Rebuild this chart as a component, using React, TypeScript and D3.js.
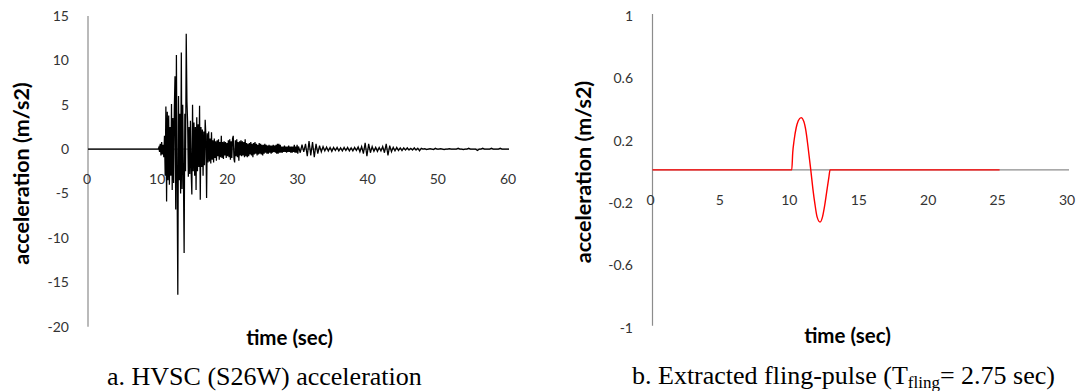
import React from "react";
import * as d3 from "d3";

const W = 1081;
const H = 391;

// ---------- Chart a: HVSC (S26W) acceleration ----------
const accXTicks = [0, 10, 20, 30, 40, 50, 60];
const accYTicks = [15, 10, 5, 0, -5, -10, -15, -20];
// quiet pre-event part (time, acc)
const accQuietTime = [0, 10];
const accQuietAcc = [0, 0];
// strong motion, 10.0 s .. 19.9 s, sampled every 0.1 s
const accStrongStart = 10.0;
const accStrongDt = 0.1;
const accStrong = [
  0, 0.2, -0.3, 0.6, -0.7, 0.8, -0.6, 0.5, -0.9, 1.5,
  -3.0, 4.8, -5.9, 4.2, -3.5, 3.8, -4.0, 2.5, -3.0, 5.1,
  -4.6, 3.5, -3.8, 4.5, 8.2, -6.8, 10.6, -4.0, -16.4, 6.0,
  -3.5, 4.0, -5.0, 10.9, -4.5, 5.0, -3.0, -11.7, 4.0, -2.5,
  13.0, 5.4, 3.0, -3.1, 2.5, -2.8, 3.2, -2.5, -5.1, 5.0,
  -2.5, 3.0, -3.0, 2.5, -4.6, 3.6, -2.5, 2.8, -2.0, 4.9,
  -5.7, 2.5, -2.0, 2.2, -3.0, 2.0, -1.8, 3.3, 1.5, -5.5,
  1.8, -1.5, 2.0, -1.4, 1.2, -1.6, 1.9, -1.2, 1.0, -1.5,
  1.2, -1.0, 0.9, -1.3, 1.0, -0.8, 1.1, -1.2, 0.8, -0.9,
  1.5, -1.0, 0.8, -1.1, 0.9, -0.7, 0.8, -1.0, 0.7, -0.8,
];
// coda, 20.0 s .. 29.9 s, every 0.1 s
const accCodaStart = 20.0;
const accCodaDt = 0.1;
const accCoda = [
  1.0, -0.9, 1.1, -1.2, 0.9, -1.0, 1.2, 1.5, -1.1, -1.5,
  1.0, -0.8, 1.1, -0.9, 0.8, -1.3, 0.9, -0.7, 1.0, -0.8,
  0.9, -0.7, 0.8, -0.9, 1.1, -0.8, 0.7, -0.9, 0.6, -0.8,
  0.7, -0.6, 0.8, -0.7, 0.6, -0.9, 0.7, -0.6, 0.8, -0.5,
  0.6, -0.7, 0.5, -0.6, 0.7, -0.5, 0.6, -0.6, 0.5, -0.7,
  0.5, -0.5, 0.6, -0.4, 0.5, -0.5, 0.4, -0.5, 0.5, -0.4,
  0.4, -0.5, 0.4, -0.4, 0.5, -0.3, 0.4, -0.4, 0.5, -0.5,
  0.6, -0.5, 0.6, -0.4, 0.5, -0.4, 0.3, -0.4, 0.3, -0.3,
  0.4, -0.3, 0.3, -0.4, 0.3, -0.3, 0.4, -0.3, 0.3, -0.4,
  0.3, -0.4, 0.3, -0.3, 0.5, -0.4, 0.3, -0.4, 0.5, -0.5,
];
// tail, 30.0 s .. 60.0 s, every 0.25 s
const accTailStart = 30.0;
const accTailDt = 0.25;
const accTail = [
  0.3, -0.4, 0.5, -0.3, 0.6, -0.8, 0.9, -0.7, 0.8, -0.9, 0.6, -0.5,
  0.4, -0.3, 0.3, -0.2, 0.25, -0.2, 0.2, -0.25, 0.2, -0.15, 0.2, -0.2,
  0.15, -0.2, 0.2, -0.15, 0.2, -0.2, 0.15, -0.2, 0.2, -0.15, 0.25, -0.3,
  0.3, -0.5, 0.7, -0.8, 0.6, -0.4, 0.3, -0.25, 0.2, -0.25, 0.2, -0.2,
  0.3, -0.4, 0.6, -0.7, 0.4, -0.3, 0.2, -0.2, 0.2, -0.15, 0.15, -0.15,
  0.15, -0.1, 0.15, -0.1, 0.1, -0.1, 0.15, -0.1, 0.1, -0.2, 0.1, 0,
  0.05, -0.05, 0, 0.05, 0, -0.05, 0.1, 0, 0, 0.05, 0, -0.05,
  0, 0, 0.05, 0, 0, 0, 0, 0.1, 0, 0, -0.05, 0,
  0, 0.1, 0, 0, 0, 0, -0.15, 0, 0, 0.1, 0, 0,
  0, 0, 0.1, 0, 0, 0, 0, 0.1, 0, 0, 0, 0,
  0,
];

// ---------- Chart b: extracted fling pulse ----------
const pulseXTicks = [0, 5, 10, 15, 20, 25, 30];
const pulseYTicks = [1, 0.6, 0.2, -0.2, -0.6, -1];
const pulseTime = [0, 10.03, 10.1, 10.2, 10.35, 10.5, 10.7, 10.9, 11.05, 11.2, 11.4, 11.55, 11.7, 11.85, 12.07, 12.25, 12.4, 12.55, 12.7, 12.79, 25];
const pulseAcc = [0, 0, 0.11, 0.19, 0.27, 0.315, 0.335, 0.31, 0.25, 0.15, 0, -0.12, -0.22, -0.3, -0.335, -0.3, -0.23, -0.14, -0.05, 0, 0];

const sans = "Lato, 'Open Sans', sans-serif";
const serif = "'Liberation Serif', 'Times New Roman', serif";
const axisColor = "#8c8c8c";
const tickColor = "#333";

function seg(start: number, dt: number, vals: number[]): [number, number][] {
  return vals.map((v, i) => [start + i * dt, v] as [number, number]);
}

export default function App() {
  // chart a scales
  const xA = d3.scaleLinear().domain([0, 60]).range([88, 509]);
  const yA = d3.scaleLinear().domain([-20, 15]).range([326.7, 16]);
  const accPts: [number, number][] = [
    ...accQuietTime.map((t, i) => [t, accQuietAcc[i]] as [number, number]),
    ...seg(accStrongStart, accStrongDt, accStrong),
    ...seg(accCodaStart, accCodaDt, accCoda),
    ...seg(accTailStart, accTailDt, accTail),
  ];
  const lineA = d3.line<[number, number]>().x((d) => xA(d[0])).y((d) => yA(d[1]));

  // chart b scales
  const xB = d3.scaleLinear().domain([0, 30]).range([652.5, 1069]);
  const yB = d3.scaleLinear().domain([-1, 1]).range([325.7, 14]);
  const pulsePts = pulseTime.map((t, i) => [t, pulseAcc[i]] as [number, number]);
  const lineB = d3
    .line<[number, number]>()
    .x((d) => xB(d[0]))
    .y((d) => yB(d[1]))
    .curve(d3.curveMonotoneX);

  const tickFont = 14;
  const titleFont = 20.5;
  const yTitleFont = 21.5;
  const captionFont = 26;

  return (
    <svg
      width={W}
      height={H}
      viewBox={`0 0 ${W} ${H}`}
      style={{ position: "absolute", left: 0, top: 0, display: "block", background: "#fff" }}
    >
      <rect x={0} y={0} width={W} height={H} fill="#fff" />

      {/* ---------- chart a ---------- */}
      <g>
        <line x1={xA(0)} x2={xA(0)} y1={yA(15)} y2={yA(-20)} stroke={axisColor} strokeWidth={1.2} />
        <line x1={xA(0)} x2={xA(60)} y1={yA(0)} y2={yA(0)} stroke={axisColor} strokeWidth={1.2} />
        {accYTicks.map((v) => (
          <text key={v} x={69} y={yA(v)} dy="0.35em" textAnchor="end" fontFamily={sans} fontSize={tickFont} fill={tickColor}>
            {v}
          </text>
        ))}
        {accXTicks.map((v) => (
          <text key={v} x={xA(v) - 1} y={yA(0) + 35} textAnchor="middle" fontFamily={sans} fontSize={tickFont} fill={tickColor}>
            {v}
          </text>
        ))}
        <path d={lineA(accPts) ?? ""} fill="none" stroke="#000" strokeWidth={1.25} strokeLinejoin="miter" />
        <text
          transform={`translate(28.5,173.5) rotate(-90)`}
          textAnchor="middle"
          fontFamily={sans}
          fontWeight="bold"
          fontSize={yTitleFont}
          fill="#000"
        >
          acceleration (m/s2)
        </text>
        <text x={289.5} y={345} textAnchor="middle" fontFamily={sans} fontWeight="bold" fontSize={titleFont} fill="#000">
          time (sec)
        </text>
        <text x={107} y={385} fontFamily={serif} fontSize={captionFont} fill="#000">
          a. HVSC (S26W) acceleration
        </text>
      </g>

      {/* ---------- chart b ---------- */}
      <g>
        <line x1={xB(0)} x2={xB(0)} y1={yB(1)} y2={yB(-1)} stroke={axisColor} strokeWidth={1.2} />
        <line x1={xB(0)} x2={xB(30)} y1={yB(0)} y2={yB(0)} stroke={axisColor} strokeWidth={1.2} />
        {pulseYTicks.map((v) => (
          <text key={v} x={633} y={yB(v) + 2} dy="0.35em" textAnchor="end" fontFamily={sans} fontSize={tickFont} fill={tickColor}>
            {v}
          </text>
        ))}
        {pulseXTicks.map((v) => (
          <text key={v} x={xB(v) - 2} y={yB(0) + 35} textAnchor="middle" fontFamily={sans} fontSize={tickFont} fill={tickColor}>
            {v}
          </text>
        ))}
        <path d={lineB(pulsePts) ?? ""} fill="none" stroke="#ff0000" strokeWidth={1.4} />
        <text
          transform={`translate(591,172) rotate(-90)`}
          textAnchor="middle"
          fontFamily={sans}
          fontWeight="bold"
          fontSize={yTitleFont}
          fill="#000"
        >
          acceleration (m/s2)
        </text>
        <text x={847.5} y={343} textAnchor="middle" fontFamily={sans} fontWeight="bold" fontSize={titleFont} fill="#000">
          time (sec)
        </text>
        <text x={632} y={384} fontFamily={serif} fontSize={captionFont} fill="#000">
          b. Extracted fling-pulse (T
          <tspan fontSize={17} dy={4}>fling</tspan>
          <tspan dy={-4}>= 2.75 sec)</tspan>
        </text>
      </g>
    </svg>
  );
}
